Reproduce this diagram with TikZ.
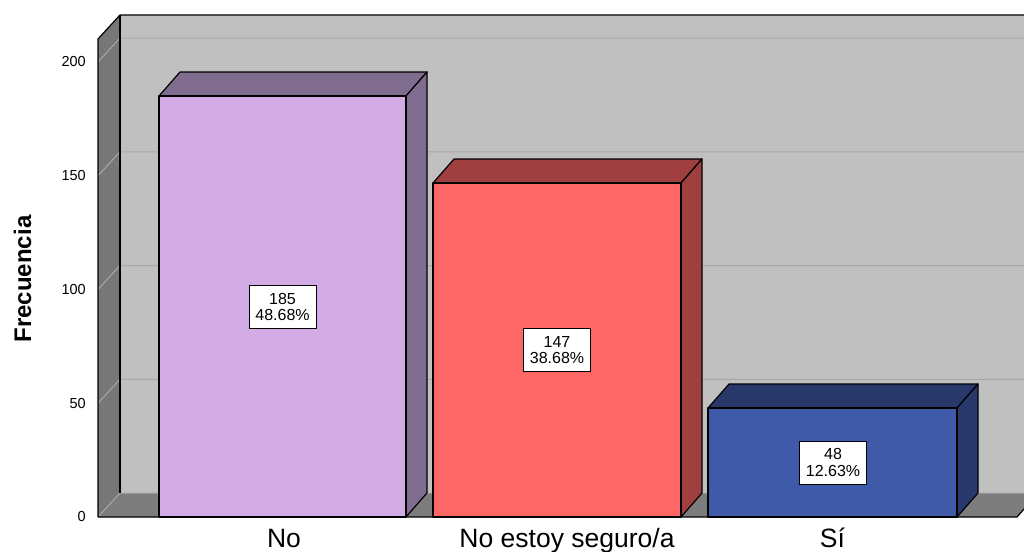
\documentclass[tikz,border=0pt]{standalone}
\usepackage{fontspec}
\setmainfont{Liberation Sans}
\definecolor{backc}{HTML}{C0C0C0}
\definecolor{wallc}{HTML}{777777}
\definecolor{floorc}{HTML}{7D7D7D}
\definecolor{gridc}{HTML}{A8A8A8}
\definecolor{barAf}{HTML}{D2AAE4}
\definecolor{barAs}{HTML}{806C8F}
\definecolor{barBf}{HTML}{FF6666}
\definecolor{barBs}{HTML}{A03F3F}
\definecolor{barCf}{HTML}{3F5AA8}
\definecolor{barCs}{HTML}{28386B}
\newcommand{\mybar}[5]{%
  % #1 left x, #2 right x, #3 top y, #4 front colour, #5 side colour
  \filldraw[edge, fill=#5] (#1,#3) -- (#1+21,#3-24) -- (#2+21,#3-24) -- (#2,#3) -- cycle;
  \filldraw[edge, fill=#5] (#2,#3) -- (#2+21,#3-24) -- (#2+21,493) -- (#2,517) -- cycle;
  \filldraw[edge, fill=#4] (#1,#3) rectangle (#2,517);
}
\begin{document}
\begin{tikzpicture}[x=1pt,y=-1pt,
  edge/.style={draw=black, line width=1.2pt, line join=round},
  gridln/.style={draw=gridc, line width=1pt},
  valbox/.style={draw=black, fill=white, line width=1pt, minimum width=67pt,
    minimum height=43pt, align=center, inner sep=0pt,
    font=\fontsize{16}{16.5}\selectfont},
  ticklab/.style={anchor=east, inner sep=0pt, font=\fontsize{14.5}{16}\selectfont},
  catlab/.style={anchor=base, inner sep=0pt, font=\fontsize{26.5}{30}\selectfont}]
\useasboundingbox (0,0) rectangle (1024,551);
\begin{scope}
\clip (0,0) rectangle (1024,551);
% back wall
\fill[backc] (120,15) rectangle (1045,493);
% left wall
\fill[wallc] (98,39) -- (120,15) -- (120,493) -- (98,517) -- cycle;
% floor
\fill[floorc] (98,517) -- (120,493) -- (1038,493) -- (1017,517) -- cycle;
% gridlines
\foreach \v in {0,50,100,150,200} {
  \pgfmathsetmacro\yf{517-2.275*\v}
  \draw[gridln] (98,\yf) -- (120,\yf-24) -- (1045,\yf-24);
}
% outlines
\draw[edge] (98,517) -- (98,39) -- (120,15) -- (1045,15);
\draw[edge] (120,15) -- (120,493);
\draw[edge] (98,517) -- (1017,517) -- (1038,493);
% bars
\mybar{159}{406}{96}{barAf}{barAs}
\mybar{433}{681}{183}{barBf}{barBs}
\mybar{708}{957}{408}{barCf}{barCs}
\end{scope}
% value boxes
\node[valbox] (v1) at (282.5,307) {185\\48.68\%};
\node[valbox] (v2) at (557,350) {147\\38.68\%};
\node[valbox] (v3) at (833,462.5) {48\\12.63\%};
% tick labels
\node[ticklab] (t0) at (86,517) {0};
\node[ticklab] (t50) at (86,403.25) {50};
\node[ticklab] (t100) at (86,289.5) {100};
\node[ticklab] (t150) at (86,175.75) {150};
\node[ticklab] (t200) at (86,62) {200};
% axis title
\node[rotate=90, inner sep=0pt, font=\bfseries\fontsize{24}{28}\selectfont] (ylab) at (22.5,279) {Frecuencia};
% category labels
\node[catlab] (c1) at (284,547) {No};
\node[catlab] (c2) at (567,547) {No estoy seguro/a};
\node[catlab] (c3) at (832.5,547) {Sí};
\end{tikzpicture}
\end{document}
